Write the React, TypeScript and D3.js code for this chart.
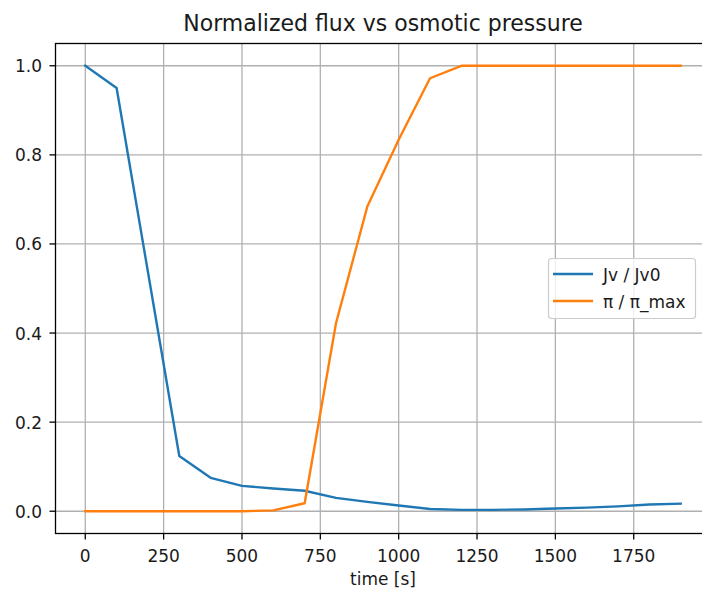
import React from "react";
import * as d3 from "d3";

const time = [0, 100, 200, 300, 400, 500, 600, 700, 800, 900, 1000, 1100, 1200, 1300, 1400, 1500, 1600, 1700, 1800, 1900];
const jvRatio = [1.0, 0.95, 0.537, 0.124, 0.075, 0.057, 0.051, 0.046, 0.03, 0.021, 0.013, 0.005, 0.003, 0.003, 0.004, 0.006, 0.008, 0.011, 0.015, 0.017];
const piRatio = [0, 0, 0, 0, 0, 0, 0.002, 0.018, 0.422, 0.684, 0.834, 0.972, 1, 1, 1, 1, 1, 1, 1, 1];
const xTicks = [0, 250, 500, 750, 1000, 1250, 1500, 1750];
const yTicks = [0, 0.2, 0.4, 0.6, 0.8, 1.0];
const seriesNames = ["Jv / Jv0", "π / π_max"];
const seriesColors = ["#1f77b4", "#ff7f0e"];

const W = 702;
const H = 591;
const L = 55.5, R = 710.5, T = 43.5, B = 533.5;
const FONT = "DejaVu Sans, sans-serif";
const SY = 1.06;

function T2(props: { x: number; y: number; size: number; anchor?: string; dy?: string; children: React.ReactNode }) {
  return (
    <text
      transform={`translate(${props.x},${props.y}) scale(1,${SY})`}
      fontSize={props.size}
      textAnchor={props.anchor || "start"}
      dy={props.dy}
      fill="#1a1a1a"
    >
      {props.children}
    </text>
  );
}

export default function App() {
  const x = d3.scaleLinear().domain([-95, 1995]).range([L, R]);
  const y = d3.scaleLinear().domain([-0.05, 1.05]).range([B, T]);
  const line = d3
    .line<[number, number]>()
    .x((d) => x(d[0]))
    .y((d) => y(d[1]));
  const series = [jvRatio, piRatio].map((vals) => time.map((t, i) => [t, vals[i]] as [number, number]));

  const legX = 548.5, legY = 258.5, legW = 147, legH = 60;

  return (
    <svg width={W} height={H} style={{ position: "absolute", left: 0, top: 0, background: "#fff" }} fontFamily={FONT}>
      <rect x={0} y={0} width={W} height={H} fill="#fff" />
      {xTicks.map((t) => (
        <line key={"gx" + t} x1={x(t)} x2={x(t)} y1={T} y2={B} stroke="#b0b0b0" strokeWidth={1.3} />
      ))}
      {yTicks.map((t) => (
        <line key={"gy" + t} x1={L} x2={R} y1={y(t)} y2={y(t)} stroke="#b0b0b0" strokeWidth={1.3} />
      ))}
      {series.map((s, i) => (
        <path key={"s" + i} d={line(s) || ""} fill="none" stroke={seriesColors[i]} strokeWidth={2.4} strokeLinejoin="round" strokeLinecap="square" />
      ))}
      <rect x={L} y={T} width={R - L} height={B - T} fill="none" stroke="#000" strokeWidth={1.3} />
      {xTicks.map((t) => (
        <g key={"xt" + t}>
          <line x1={x(t)} x2={x(t)} y1={B} y2={B + 6} stroke="#000" strokeWidth={1.3} />
          <T2 x={x(t)} y={562} size={17} anchor="middle">
            {String(t)}
          </T2>
        </g>
      ))}
      {yTicks.map((t) => (
        <g key={"yt" + t}>
          <line x1={L - 6} x2={L} y1={y(t)} y2={y(t)} stroke="#000" strokeWidth={1.3} />
          <T2 x={42} y={y(t) + 6.5} size={17} anchor="end">
            {t.toFixed(1)}
          </T2>
        </g>
      ))}
      <T2 x={(L + R) / 2} y={31} size={22} anchor="middle">
        Normalized flux vs osmotic pressure
      </T2>
      <T2 x={(L + R) / 2} y={585} size={17} anchor="middle">
        time [s]
      </T2>
      <rect x={legX} y={legY} width={legW} height={legH} rx={3} fill="#fff" fillOpacity={0.8} stroke="#cccccc" strokeWidth={1.2} />
      {seriesNames.map((n, i) => {
        const cy = 274 + i * 27;
        return (
          <g key={"lg" + i}>
            <line x1={553} x2={593} y1={cy} y2={cy} stroke={seriesColors[i]} strokeWidth={2.4} />
            <T2 x={603} y={cy + 6.5} size={17}>
              {n}
            </T2>
          </g>
        );
      })}
    </svg>
  );
}
